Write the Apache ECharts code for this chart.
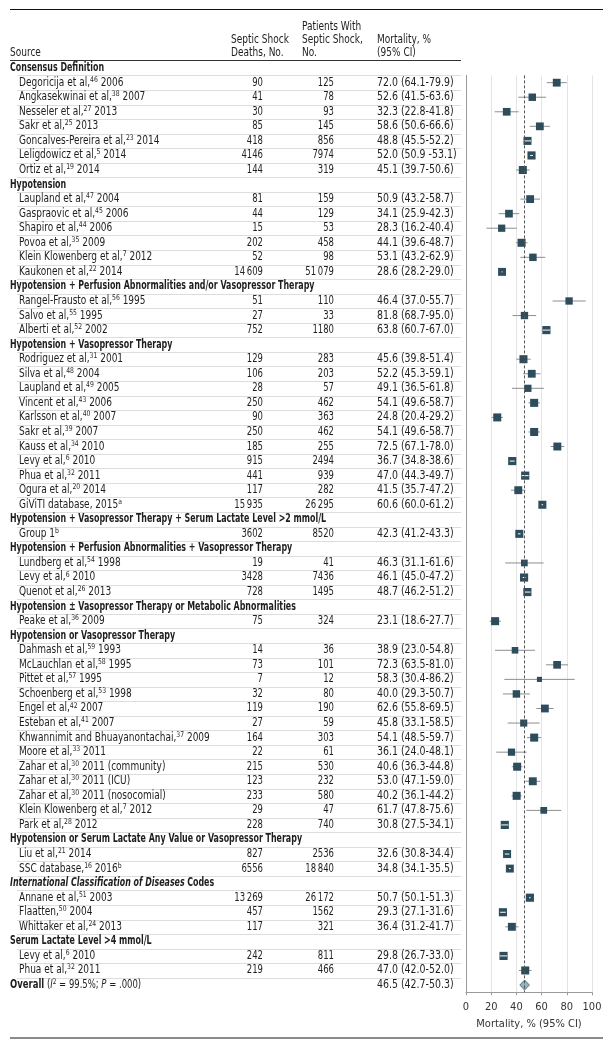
<!DOCTYPE html>
<html>
<head>
<meta charset="utf-8">
<script src="https://cdn.jsdelivr.net/npm/echarts@6.0.0/dist/echarts.min.js"></script>
<style>
  html, body { margin: 0; padding: 0; background: #fff; }
  #chart { width: 611px; height: 1048px; }
</style>
</head>
<body>
<div id="chart"></div>
<script>
var FONT = "'DejaVu Sans Condensed','Liberation Sans Narrow',sans-serif";
var FS = 11.5;

// one entry per row, top to bottom. {g|} group title, {s|} superscript
var sources = [
  '{g|Consensus Definition}',
  'Degoricija et al,{s|46} 2006',
  'Angkasekwinai et al,{s|38} 2007',
  'Nesseler et al,{s|27} 2013',
  'Sakr et al,{s|25} 2013',
  'Goncalves-Pereira et al,{s|23} 2014',
  'Leligdowicz et al,{s|5} 2014',
  'Ortiz et al,{s|19} 2014',
  '{g|Hypotension}',
  'Laupland et al,{s|47} 2004',
  'Gaspraovic et al,{s|45} 2006',
  'Shapiro et al,{s|44} 2006',
  'Povoa et al,{s|35} 2009',
  'Klein Klowenberg et al,{s|7} 2012',
  'Kaukonen et al,{s|22} 2014',
  '{g|Hypotension + Perfusion Abnormalities and/or Vasopressor Therapy}',
  'Rangel-Frausto et al,{s|56} 1995',
  'Salvo et al,{s|55} 1995',
  'Alberti et al,{s|52} 2002',
  '{g|Hypotension + Vasopressor Therapy}',
  'Rodriguez et al,{s|31} 2001',
  'Silva et al,{s|48} 2004',
  'Laupland et al,{s|49} 2005',
  'Vincent et al,{s|43} 2006',
  'Karlsson et al,{s|40} 2007',
  'Sakr et al,{s|39} 2007',
  'Kauss et al,{s|34} 2010',
  'Levy et al,{s|6} 2010',
  'Phua et al,{s|32} 2011',
  'Ogura et al,{s|20} 2014',
  'GiViTI database, 2015{s|a}',
  '{g|Hypotension + Vasopressor Therapy + Serum Lactate Level >2 mmol/L}',
  'Group 1{s|b}',
  '{g|Hypotension + Perfusion Abnormalities + Vasopressor Therapy}',
  'Lundberg et al,{s|54} 1998',
  'Levy et al,{s|6} 2010',
  'Quenot et al,{s|26} 2013',
  '{g|Hypotension \u00b1 Vasopressor Therapy or Metabolic Abnormalities}',
  'Peake et al,{s|36} 2009',
  '{g|Hypotension or Vasopressor Therapy}',
  'Dahmash et al,{s|59} 1993',
  'McLauchlan et al,{s|58} 1995',
  'Pittet et al,{s|57} 1995',
  'Schoenberg et al,{s|53} 1998',
  'Engel et al,{s|42} 2007',
  'Esteban et al,{s|41} 2007',
  'Khwannimit and Bhuayanontachai,{s|37} 2009',
  'Moore et al,{s|33} 2011',
  'Zahar et al,{s|30} 2011 (community)',
  'Zahar et al,{s|30} 2011 (ICU)',
  'Zahar et al,{s|30} 2011 (nosocomial)',
  'Klein Klowenberg et al,{s|7} 2012',
  'Park et al,{s|28} 2012',
  '{g|Hypotension or Serum Lactate Any Value or Vasopressor Therapy}',
  'Liu et al,{s|21} 2014',
  'SSC database,{s|16} 2016{s|b}',
  '{gi|International Classification of Diseases} {g|Codes}',
  'Annane et al,{s|51} 2003',
  'Flaatten,{s|50} 2004',
  'Whittaker et al,{s|24} 2013',
  '{g|Serum Lactate Level >4 mmol/L}',
  'Levy et al,{s|6} 2010',
  'Phua et al,{s|32} 2011',
  '{g|Overall} ({i|I}{s|2} = 99.5%; {i|P} = .000)'
];

var deaths = [null, 90, 41, 30, 85, 418, 4146, 144,
  null, 81, 44, 15, 202, 52, 14609,
  null, 51, 27, 752,
  null, 129, 106, 28, 250, 90, 250, 185, 915, 441, 117, 15935,
  null, 3602,
  null, 19, 3428, 728,
  null, 75,
  null, 14, 73, 7, 32, 119, 27, 164, 22, 215, 123, 233, 29, 228,
  null, 827, 6556,
  null, 13269, 457, 117,
  null, 242, 219,
  null];

var patients = [null, 125, 78, 93, 145, 856, 7974, 319,
  null, 159, 129, 53, 458, 98, 51079,
  null, 110, 33, 1180,
  null, 283, 203, 57, 462, 363, 462, 255, 2494, 939, 282, 26295,
  null, 8520,
  null, 41, 7436, 1495,
  null, 324,
  null, 36, 101, 12, 80, 190, 59, 303, 61, 530, 232, 580, 47, 740,
  null, 2536, 18840,
  null, 26172, 1562, 321,
  null, 811, 466,
  null];

var ciText = ['', '72.0 (64.1-79.9)', '52.6 (41.5-63.6)', '32.3 (22.8-41.8)', '58.6 (50.6-66.6)',
  '48.8 (45.5-52.2)', '52.0 (50.9 -53.1)', '45.1 (39.7-50.6)',
  '', '50.9 (43.2-58.7)', '34.1 (25.9-42.3)', '28.3 (16.2-40.4)', '44.1 (39.6-48.7)',
  '53.1 (43.2-62.9)', '28.6 (28.2-29.0)',
  '', '46.4 (37.0-55.7)', '81.8 (68.7-95.0)', '63.8 (60.7-67.0)',
  '', '45.6 (39.8-51.4)', '52.2 (45.3-59.1)', '49.1 (36.5-61.8)', '54.1 (49.6-58.7)',
  '24.8 (20.4-29.2)', '54.1 (49.6-58.7)', '72.5 (67.1-78.0)', '36.7 (34.8-38.6)',
  '47.0 (44.3-49.7)', '41.5 (35.7-47.2)', '60.6 (60.0-61.2)',
  '', '42.3 (41.2-43.3)',
  '', '46.3 (31.1-61.6)', '46.1 (45.0-47.2)', '48.7 (46.2-51.2)',
  '', '23.1 (18.6-27.7)',
  '', '38.9 (23.0-54.8)', '72.3 (63.5-81.0)', '58.3 (30.4-86.2)', '40.0 (29.3-50.7)',
  '62.6 (55.8-69.5)', '45.8 (33.1-58.5)', '54.1 (48.5-59.7)', '36.1 (24.0-48.1)',
  '40.6 (36.3-44.8)', '53.0 (47.1-59.0)', '40.2 (36.1-44.2)', '61.7 (47.8-75.6)',
  '30.8 (27.5-34.1)',
  '', '32.6 (30.8-34.4)', '34.8 (34.1-35.5)',
  '', '50.7 (50.1-51.3)', '29.3 (27.1-31.6)', '36.4 (31.2-41.7)',
  '', '29.8 (26.7-33.0)', '47.0 (42.0-52.0)',
  '46.5 (42.7-50.3)'];

// marker positions as drawn in the figure (rows 16/17 are drawn swapped there)
var est = [null, 72.0, 52.6, 32.3, 58.6, 48.8, 52.0, 45.1,
  null, 50.9, 34.1, 28.3, 44.1, 53.1, 28.6,
  null, 81.8, 46.4, 63.8,
  null, 45.6, 52.2, 49.1, 54.1, 24.8, 54.1, 72.5, 36.7, 47.0, 41.5, 60.6,
  null, 42.3,
  null, 46.3, 46.1, 48.7,
  null, 23.1,
  null, 38.9, 72.3, 58.3, 40.0, 62.6, 45.8, 54.1, 36.1, 40.6, 53.0, 40.2, 61.7, 30.8,
  null, 32.6, 34.8,
  null, 50.7, 29.3, 36.4,
  null, 29.8, 47.0,
  46.5];

var lo = [null, 64.1, 41.5, 22.8, 50.6, 45.5, 50.9, 39.7,
  null, 43.2, 25.9, 16.2, 39.6, 43.2, 28.2,
  null, 68.7, 37.0, 60.7,
  null, 39.8, 45.3, 36.5, 49.6, 20.4, 49.6, 67.1, 34.8, 44.3, 35.7, 60.0,
  null, 41.2,
  null, 31.1, 45.0, 46.2,
  null, 18.6,
  null, 23.0, 63.5, 30.4, 29.3, 55.8, 33.1, 48.5, 24.0, 36.3, 47.1, 36.1, 47.8, 27.5,
  null, 30.8, 34.1,
  null, 50.1, 27.1, 31.2,
  null, 26.7, 42.0,
  42.7];

var hi = [null, 79.9, 63.6, 41.8, 66.6, 52.2, 53.1, 50.6,
  null, 58.7, 42.3, 40.4, 48.7, 62.9, 29.0,
  null, 95.0, 55.7, 67.0,
  null, 51.4, 59.1, 61.8, 58.7, 29.2, 58.7, 78.0, 38.6, 49.7, 47.2, 61.2,
  null, 43.3,
  null, 61.6, 47.2, 51.2,
  null, 27.7,
  null, 54.8, 81.0, 86.2, 50.7, 69.5, 58.5, 59.7, 48.1, 44.8, 59.0, 44.2, 75.6, 34.1,
  null, 34.4, 35.5,
  null, 51.3, 31.6, 41.7,
  null, 33.0, 52.0,
  50.3];

// study weight, %
var weight = [null, 1.75, 1.6, 1.7, 1.75, 1.85, 1.9, 1.85,
  null, 1.75, 1.7, 1.5, 1.85, 1.6, 1.8,
  null, 1.55, 1.55, 1.9,
  null, 1.85, 1.75, 1.5, 1.85, 1.85, 1.85, 1.8, 1.9, 1.9, 1.8, 1.85,
  null, 1.85,
  null, 1.3, 1.9, 1.9,
  null, 1.85,
  null, 1.25, 1.7, 0.75, 1.6, 1.75, 1.45, 1.85, 1.5, 1.85, 1.8, 1.85, 1.3, 1.9,
  null, 1.85, 1.8,
  null, 1.9, 1.9, 1.8,
  null, 1.9, 1.85,
  null];

var xTicks = [0, 20, 40, 60, 80, 100];

var BOX = '#2d4c5c';
var overallRow = sources.length - 1;

function fmt(n) {
  if (n == null) return '';
  var s = String(n);
  return n >= 10000 ? s.slice(0, -3) + '\u2009' + s.slice(-3) : s;
}

var RICH = {
  g: { fontWeight: 'bold', fontSize: FS, fontFamily: FONT, lineHeight: 14 },
  gi: { fontWeight: 'bold', fontStyle: 'italic', fontSize: FS, fontFamily: FONT, lineHeight: 14 },
  i: { fontStyle: 'italic', fontSize: FS, fontFamily: FONT, lineHeight: 14 },
  s: { fontSize: 7.8, fontFamily: FONT, verticalAlign: 'top', lineHeight: 6 }
};

// text squeezed sideways to get the narrow look of the journal font
function txt(x, y, text, align, sx) {
  return {
    type: 'text', x: x, y: y, scaleX: sx || 0.87,
    style: {
      text: text, rich: RICH, fontSize: FS, fontFamily: FONT, lineHeight: 14,
      fill: '#1e1e1e', align: align || 'left', verticalAlign: 'middle'
    }
  };
}

var tableData = sources.map(function (s, i) { return [0, i]; });
var studyData = [];
est.forEach(function (v, i) {
  if (v != null && i !== overallRow) studyData.push([v, i, lo[i], hi[i], weight[i]]);
});

function renderRow(params, api) {
  var i = api.value(1);
  var y = api.coord([0, i])[1];
  var half = api.size([0, 1])[1] / 2;
  var isStudy = deaths[i] != null;
  var sx = isStudy ? 0.87 : (i === overallRow ? 0.82 : 0.765);
  var kids = [txt(isStudy ? 19 : 10, y, sources[i], 'left', sx)];
  if (isStudy) {
    kids.push(txt(263, y, fmt(deaths[i]), 'right', 0.82));
    kids.push(txt(334, y, fmt(patients[i]), 'right', 0.82));
  }
  if (ciText[i]) kids.push(txt(377, y, ciText[i], 'left', 0.91));
  if (i < overallRow) {
    var ly = Math.round(y + half) + 0.5;
    kids.push({ type: 'line', shape: { x1: 17, y1: ly, x2: 461, y2: ly },
      style: { stroke: '#dddddd', lineWidth: 1 } });
  }
  return { type: 'group', children: kids };
}

function renderStudy(params, api) {
  var row = api.value(1);
  var c = api.coord([api.value(0), row]);
  var a = api.coord([api.value(2), row]);
  var b = api.coord([api.value(3), row]);
  var s = 5.9 * Math.sqrt(api.value(4));
  var left = c[0] - s / 2, right = c[0] + s / 2;
  var box = { type: 'rect', shape: { x: left, y: c[1] - s / 2, width: s, height: s },
    style: { fill: BOX } };
  var wide = (b[0] - a[0]) > s + 2;
  if (wide) {
    return { type: 'group', children: [
      { type: 'line', shape: { x1: a[0], y1: c[1], x2: b[0], y2: c[1] },
        style: { stroke: '#8e8e8e', lineWidth: 1 } },
      box
    ] };
  }
  return { type: 'group', children: [
    box,
    { type: 'line', shape: { x1: Math.max(a[0], left + 0.5), y1: c[1], x2: Math.min(b[0], right - 0.5), y2: c[1] },
      style: { stroke: '#ffffff', lineWidth: 1 } }
  ] };
}

function renderOverall(params, api) {
  var row = api.value(1);
  var c = api.coord([api.value(0), row]);
  var a = api.coord([api.value(2), row]);
  var b = api.coord([api.value(3), row]);
  return {
    type: 'polygon',
    shape: { points: [[a[0], c[1]], [c[0], c[1] - 5], [b[0], c[1]], [c[0], c[1] + 5]] },
    style: { fill: '#93b3c3', stroke: '#557585', lineWidth: 1 }
  };
}

var chart = echarts.init(document.getElementById('chart'));
chart.setOption({
  animation: false,
  textStyle: { fontFamily: FONT },
  grid: { left: 466, right: 19, top: 75.4, bottom: 55.7 },
  xAxis: {
    type: 'value', min: 0, max: 100, interval: 20,
    axisLine: { show: true, lineStyle: { color: '#9a9a9a' } },
    axisTick: { show: true, length: 3, lineStyle: { color: '#9a9a9a' } },
    axisLabel: { fontSize: 11, color: '#333', margin: 9, fontFamily: FONT,
      formatter: function (v) { return xTicks.indexOf(v) >= 0 ? String(v) : ''; } },
    splitLine: { show: true, lineStyle: { color: '#e4e4e4' } },
    name: 'Mortality, % (95% CI)', nameLocation: 'middle', nameGap: 26,
    nameTextStyle: { fontSize: 11, color: '#333', fontFamily: FONT }
  },
  yAxis: {
    type: 'value', inverse: true, min: 0.5, max: sources.length - 0.5,
    axisLine: { show: true, lineStyle: { color: '#9a9a9a' } },
    axisTick: { show: false }, axisLabel: { show: false }, splitLine: { show: false }
  },
  graphic: [
    { type: 'line', shape: { x1: 10, y1: 9.5, x2: 603, y2: 9.5 }, style: { stroke: '#111', lineWidth: 1.2 } },
    { type: 'line', shape: { x1: 10, y1: 60.5, x2: 461, y2: 60.5 }, style: { stroke: '#333', lineWidth: 1 } },
    { type: 'line', shape: { x1: 10, y1: 1038, x2: 603, y2: 1038 }, style: { stroke: '#8a8a8a', lineWidth: 2 } },
    txt(10, 53, 'Source'),
    txt(231, 40, 'Septic Shock'),
    txt(231, 53, 'Deaths, No.'),
    txt(302, 27, 'Patients With'),
    txt(302, 40, 'Septic Shock,'),
    txt(302, 53, 'No.'),
    txt(377, 40, 'Mortality, %'),
    txt(377, 53, '(95% CI)')
  ],
  series: [
    {
      type: 'custom', name: 'table', renderItem: renderRow, data: tableData,
      encode: { x: 0, y: 1 }, clip: false, silent: true, z: 1
    },
    {
      type: 'line', data: [], z: 2,
      markLine: {
        silent: true, symbol: 'none', label: { show: false },
        lineStyle: { type: [3, 2], color: '#555', width: 1 },
        data: [{ xAxis: est[overallRow] }]
      }
    },
    {
      type: 'custom', name: 'studies', renderItem: renderStudy, data: studyData,
      encode: { x: 0, y: 1 }, z: 3
    },
    {
      type: 'custom', name: 'overall', renderItem: renderOverall,
      data: [[est[overallRow], overallRow, lo[overallRow], hi[overallRow]]],
      encode: { x: 0, y: 1 }, z: 3
    }
  ]
});
</script>
</body>
</html>
